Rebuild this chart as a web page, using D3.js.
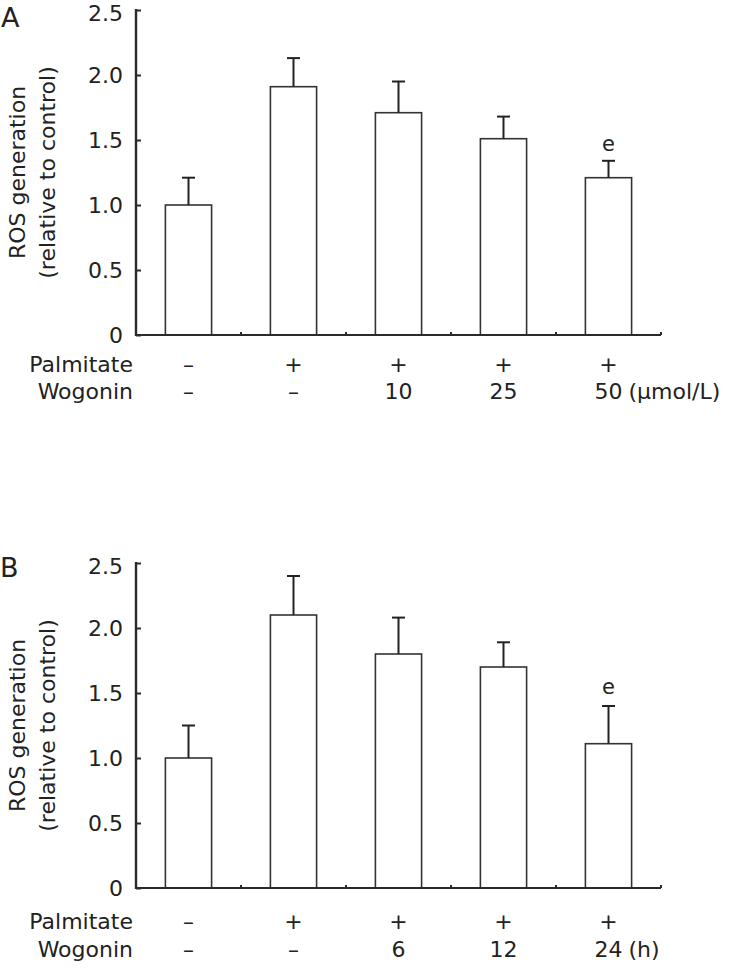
<!DOCTYPE html>
<html>
<head>
<meta charset="utf-8">
<script src="https://cdn.jsdelivr.net/npm/d3@7"></script>
<style>
  html, body { margin: 0; padding: 0; background: #fff; }
  svg { display: block; }
  text { font-family: "DejaVu Sans", sans-serif; fill: #222; }
</style>
</head>
<body>
<svg id="chart" width="729" height="968"></svg>
<script>
// ---- data ----
const categories = ["c1", "c2", "c3", "c4", "c5"];
const palmitate = ["–", "+", "+", "+", "+"];
const wogoninA = ["–", "–", "10", "25", "50"];
const wogoninB = ["–", "–", "6", "12", "24"];
const unitA = "(μmol/L)";
const unitB = "(h)";
const meanA = [1.00, 1.91, 1.71, 1.51, 1.21];
const errA  = [0.21, 0.22, 0.24, 0.17, 0.13];
const meanB = [1.00, 2.10, 1.80, 1.70, 1.11];
const errB  = [0.25, 0.30, 0.28, 0.19, 0.29];
const sigA = ["", "", "", "", "e"];
const sigB = ["", "", "", "", "e"];
const yTicks = [0, 0.5, 1.0, 1.5, 2.0, 2.5];
const yTickLabels = ["0", "0.5", "1.0", "1.5", "2.0", "2.5"];
const yLabel1 = "ROS generation";
const yLabel2 = "(relative to control)";
const rowLabels = ["Palmitate", "Wogonin"];

const svg = d3.select("#chart");

function panel(opts) {
  const g = svg.append("g");
  const x = d3.scaleBand().domain(categories).range([136, 661])
    .paddingInner(0.56).paddingOuter(0.28);
  const y = d3.scaleLinear().domain([0, 2.5]).range([opts.y0, opts.y0 - 325]);
  const step = x.step();
  const axisColor = "#2a2a2a";

  // panel letter
  g.append("text").attr("x", opts.letterX).attr("y", opts.letterY)
    .attr("font-size", 27).text(opts.letter);

  // bars
  g.selectAll("rect.bar").data(opts.mean).enter().append("rect")
    .attr("x", (d, i) => x(categories[i]))
    .attr("y", d => y(d))
    .attr("width", x.bandwidth())
    .attr("height", d => y(0) - y(d))
    .attr("fill", "#fff").attr("stroke", "#333").attr("stroke-width", 1.6);

  // error bars (upper only)
  opts.mean.forEach((m, i) => {
    const cx = x(categories[i]) + x.bandwidth() / 2;
    const top = y(m + opts.err[i]);
    g.append("line").attr("x1", cx).attr("x2", cx).attr("y1", y(m)).attr("y2", top)
      .attr("stroke", "#222").attr("stroke-width", 2);
    g.append("line").attr("x1", cx - 6.5).attr("x2", cx + 6.5).attr("y1", top).attr("y2", top)
      .attr("stroke", "#222").attr("stroke-width", 2);
    if (opts.sig[i]) {
      g.append("text").attr("x", cx).attr("y", top - opts.sigGap)
        .attr("text-anchor", "middle").attr("font-size", 21).text(opts.sig[i]);
    }
  });

  // y axis
  const yAxis = d3.axisRight(y).tickValues(yTicks).tickSize(5).tickFormat("");
  const ya = g.append("g").attr("transform", "translate(136,0)").call(yAxis);
  ya.select(".domain").remove();
  ya.selectAll(".tick line").attr("stroke", axisColor).attr("stroke-width", 2);
  g.append("line").attr("x1", 136).attr("x2", 136).attr("y1", y(2.5) - 1).attr("y2", y(0) + 1)
    .attr("stroke", axisColor).attr("stroke-width", 2.4);
  yTicks.forEach((t, i) => {
    const off = (i === yTicks.length - 1) ? 11 : 8;
    g.append("text").attr("x", 123).attr("y", y(t) + off)
      .attr("text-anchor", "end").attr("font-size", 22).attr("fill", "#333")
      .text(yTickLabels[i]);
  });

  // x axis
  g.append("line").attr("x1", 135).attr("x2", 661).attr("y1", y(0)).attr("y2", y(0))
    .attr("stroke", axisColor).attr("stroke-width", 2);
  categories.forEach(c => {
    const bx = x(c) + x.bandwidth() + (step - x.bandwidth()) / 2;
    g.append("line").attr("x1", bx).attr("x2", bx).attr("y1", y(0)).attr("y2", y(0) - 3)
      .attr("stroke", axisColor).attr("stroke-width", 2);
  });

  // y label
  const ymid = (y(0) + y(2.5)) / 2;
  g.append("text").attr("transform", `translate(25,${ymid}) rotate(-90)`)
    .attr("text-anchor", "middle").attr("font-size", 22).text(yLabel1);
  g.append("text").attr("transform", `translate(55,${ymid}) rotate(-90)`)
    .attr("text-anchor", "middle").attr("font-size", 22).text(yLabel2);

  // row labels
  const rows = [palmitate, opts.wogonin];
  rows.forEach((row, r) => {
    const by = opts.rowY[r];
    g.append("text").attr("x", 133).attr("y", by).attr("text-anchor", "end")
      .attr("font-size", 22).text(rowLabels[r]);
    row.forEach((v, i) => {
      const cx = x(categories[i]) + x.bandwidth() / 2;
      const t = g.append("text").attr("x", cx).attr("y", by).attr("text-anchor", "middle")
        .attr("font-size", 22).attr("fill", v === "–" ? "#555" : "#222").text(v);
      if (r === 1 && i === row.length - 1) {
        const w = t.node().getComputedTextLength();
        g.append("text").attr("x", cx + w / 2 + 6).attr("y", by)
          .attr("font-size", 22).text(opts.unit);
      }
    });
  });
}

panel({ letter: "A", letterX: 1, letterY: 27, y0: 335, mean: meanA, err: errA,
  sig: sigA, sigGap: 10, wogonin: wogoninA, unit: unitA, rowY: [372, 399] });
panel({ letter: "B", letterX: 0, letterY: 577, y0: 888, mean: meanB, err: errB,
  sig: sigB, sigGap: 12, wogonin: wogoninB, unit: unitB, rowY: [929, 957] });
</script>
</body>
</html>
